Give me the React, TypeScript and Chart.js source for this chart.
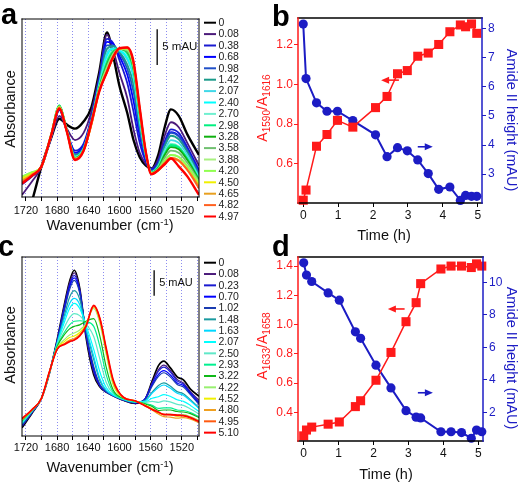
import React, { useEffect, useRef } from "react";
import { Chart, registerables } from "chart.js";
Chart.register(...registerables);

// ---------------- Panel a : spectra (mAU) ----------------
const WN_A = [1725, 1712, 1700, 1688, 1677, 1668, 1657, 1646, 1636, 1626, 1616, 1608, 1600, 1590, 1582, 1574, 1566, 1559, 1550, 1542, 1534, 1524, 1513, 1498];
const LABELS_A = ["0", "0.08", "0.38", "0.68", "0.98", "1.42", "2.07", "2.40", "2.70", "2.98", "3.28", "3.58", "3.88", "4.20", "4.50", "4.65", "4.82", "4.97"];
const COLORS_A = ["#000000", "#4b1a7a", "#1a1ad0", "#0000ff", "#2050c8", "#1a9a8a", "#40d8e8", "#00ffff", "#70f0d0", "#00f080", "#10b010", "#70c070", "#a8f080", "#90ff50", "#f0f000", "#e8a020", "#ff6020", "#ff0000"];
const A_000 = [-5, -0.5, 4.3, 8.2, 11.0, 10.2, 9.6, 10.6, 12.6, 17.5, 23.1, 19.8, 15.6, 11.8, 8.0, 5.6, 4.4, 4.0, 6.0, 9.8, 12.3, 11.4, 8.8, 5.9];
const A_008 = [0.3, 2.2, 4.2, 8.1, 11.4, 9.7, 8.0, 9.0, 12.0, 17.0, 22.8, 20.6, 17.4, 13.9, 9.5, 6.2, 4.6, 4.0, 5.4, 8.6, 10.5, 9.8, 7.6, 4.4];
const A_038 = [1.8, 2.9, 4.3, 8.3, 12.2, 9.4, 6.5, 7.5, 11.2, 16.6, 22.2, 21.6, 19.2, 16.0, 12.0, 7.6, 4.9, 3.9, 5.0, 7.8, 9.5, 9.0, 7.0, 3.8];
const A_068 = [1.9, 3.0, 4.3, 8.3, 12.3, 9.4, 6.2, 7.2, 11.0, 16.4, 21.8, 21.5, 19.8, 17.2, 13.5, 8.6, 5.2, 3.8, 4.8, 7.5, 9.1, 8.6, 6.7, 3.5];
const A_098 = [2.0, 3.0, 4.3, 8.4, 12.4, 9.4, 6.0, 7.0, 10.9, 16.2, 21.3, 21.3, 20.2, 18.0, 14.8, 9.4, 5.4, 3.7, 4.7, 7.4, 9.0, 8.5, 6.6, 3.3];
const A_142 = [2.2, 3.1, 4.3, 8.4, 12.5, 9.5, 5.9, 6.9, 10.8, 16.0, 20.8, 21.2, 20.4, 18.6, 15.8, 10.0, 5.6, 3.6, 4.6, 7.1, 8.6, 8.1, 6.3, 3.0];
const A_207 = [2.4, 3.2, 4.3, 8.5, 12.6, 9.5, 5.7, 6.8, 10.7, 15.8, 20.2, 20.9, 20.6, 19.3, 16.8, 10.7, 5.8, 3.5, 4.4, 6.6, 8.0, 7.6, 5.9, 2.8];
const A_240 = [2.5, 3.2, 4.3, 8.5, 12.7, 9.5, 5.6, 6.8, 10.6, 15.6, 19.8, 20.8, 20.6, 19.6, 17.2, 11.0, 5.8, 3.5, 4.2, 6.0, 7.2, 6.9, 5.4, 2.6];
const A_270 = [2.6, 3.3, 4.3, 8.5, 12.8, 9.6, 5.6, 6.7, 10.5, 15.5, 19.3, 20.6, 20.7, 20.0, 17.6, 11.3, 5.9, 3.5, 4.3, 6.3, 7.5, 7.1, 5.5, 2.6];
const A_298 = [2.8, 3.4, 4.3, 8.6, 12.9, 9.6, 5.5, 6.7, 10.5, 15.4, 19.0, 20.5, 20.8, 20.2, 17.8, 11.5, 6.0, 3.4, 4.2, 6.1, 7.3, 7.0, 5.4, 2.5];
const A_328 = [2.7, 3.4, 4.3, 8.6, 12.8, 9.6, 5.5, 6.6, 10.4, 15.3, 18.6, 20.3, 20.8, 20.4, 18.1, 11.7, 6.0, 3.4, 4.1, 5.9, 7.0, 6.7, 5.2, 2.4];
const A_358 = [2.8, 3.4, 4.3, 8.6, 12.8, 9.5, 5.4, 6.6, 10.4, 15.2, 18.4, 20.2, 20.8, 20.5, 18.3, 11.9, 6.0, 3.4, 4.0, 5.5, 6.5, 6.2, 4.8, 2.2];
const A_388 = [2.9, 3.5, 4.3, 8.6, 12.7, 9.5, 5.4, 6.6, 10.3, 15.1, 18.1, 20.0, 20.8, 20.7, 18.5, 12.0, 6.1, 3.3, 3.9, 5.1, 5.9, 5.7, 4.4, 2.0];
const A_420 = [2.9, 3.5, 4.3, 8.6, 12.7, 9.5, 5.4, 6.6, 10.3, 15.0, 17.8, 19.8, 20.8, 20.8, 18.6, 12.1, 6.1, 3.3, 3.9, 5.1, 5.9, 5.6, 4.3, 1.9];
const A_450 = [2.6, 3.3, 4.3, 8.5, 12.6, 9.4, 5.3, 6.5, 10.2, 14.9, 17.6, 19.6, 20.8, 20.9, 18.8, 12.3, 6.1, 3.3, 3.7, 4.7, 5.4, 5.1, 3.8, 1.7];
const A_465 = [2.3, 3.2, 4.3, 8.5, 12.6, 9.4, 5.3, 6.5, 10.2, 14.9, 17.6, 19.6, 20.8, 20.9, 18.8, 12.3, 6.2, 3.2, 3.8, 4.8, 5.5, 5.2, 3.9, 1.5];
const A_482 = [2.1, 3.1, 4.3, 8.5, 12.5, 9.4, 5.3, 6.5, 10.1, 14.8, 17.5, 19.5, 20.8, 21.0, 18.9, 12.4, 6.2, 3.2, 3.8, 4.8, 5.5, 5.1, 3.8, 1.2];
const A_497 = [1.9, 3.0, 4.3, 8.5, 12.4, 9.4, 5.2, 6.5, 10.5, 14.8, 17.6, 19.7, 20.9, 21.0, 19.0, 12.5, 6.2, 3.2, 3.8, 4.6, 5.4, 4.3, 2.9, 0.3];
const SERIES_A = [A_000, A_008, A_038, A_068, A_098, A_142, A_207, A_240, A_270, A_298, A_328, A_358, A_388, A_420, A_450, A_465, A_482, A_497];

// ---------------- Panel c : spectra (mAU) ----------------
const WN_C = [1725, 1712, 1700, 1690, 1680, 1670, 1664, 1658, 1651, 1643, 1633, 1625, 1617, 1608, 1595, 1580, 1568, 1558, 1550, 1543, 1535, 1526, 1518, 1509, 1498];
const LABELS_C = ["0", "0.08", "0.23", "0.70", "1.02", "1.48", "1.63", "2.07", "2.50", "2.93", "3.22", "4.22", "4.52", "4.80", "4.95", "5.10"];
const COLORS_C = ["#000000", "#4b1a7a", "#1a1ad0", "#0000ff", "#1a3cb0", "#1a9aa0", "#00d8ff", "#00ffff", "#60e8c8", "#00f090", "#10b818", "#98f070", "#f0f000", "#f0a020", "#ff5a10", "#ff0000"];
const C_000 = [1.6, 4.5, 7.4, 12.2, 18.8, 26.3, 30.3, 32.5, 29.0, 19.5, 12.0, 9.6, 8.6, 7.9, 7.0, 6.4, 7.0, 10.8, 13.8, 14.7, 13.4, 11.6, 11.0, 9.2, 7.8];
const C_008 = [1.9, 4.6, 7.4, 12.3, 18.7, 26.0, 30.0, 32.0, 28.8, 19.8, 12.4, 9.7, 8.6, 7.9, 7.0, 6.5, 7.1, 10.5, 13.0, 13.9, 12.9, 11.1, 10.4, 8.7, 7.0];
const C_023 = [2.0, 4.7, 7.4, 12.3, 18.6, 25.8, 29.6, 31.5, 28.6, 20.0, 12.8, 9.8, 8.6, 7.9, 7.0, 6.5, 7.1, 10.3, 12.7, 13.5, 12.6, 10.8, 10.2, 8.5, 6.7];
const C_070 = [2.0, 4.7, 7.4, 12.3, 18.5, 25.4, 29.2, 31.0, 28.3, 20.2, 13.2, 9.9, 8.7, 7.9, 7.1, 6.5, 7.1, 10.0, 12.1, 12.8, 12.0, 10.4, 9.9, 8.3, 6.4];
const C_102 = [2.1, 4.7, 7.4, 12.3, 18.4, 25.0, 28.7, 30.5, 28.0, 20.5, 13.6, 10.1, 8.7, 7.9, 7.1, 6.6, 7.0, 9.8, 11.7, 12.4, 11.6, 10.1, 9.6, 8.1, 6.2];
const C_148 = [2.4, 4.9, 7.4, 12.3, 18.2, 24.0, 27.2, 28.5, 26.8, 21.0, 15.0, 10.8, 8.9, 8.0, 7.1, 6.6, 6.9, 8.6, 9.9, 10.4, 9.8, 8.7, 8.3, 7.1, 5.6];
const C_163 = [2.5, 4.9, 7.4, 12.3, 18.1, 23.4, 26.0, 27.0, 25.8, 21.2, 15.6, 11.2, 9.0, 8.0, 7.2, 6.7, 6.8, 8.4, 9.5, 10.0, 9.4, 8.4, 8.0, 6.9, 5.4];
const C_207 = [2.6, 5.0, 7.4, 12.3, 18.0, 22.6, 25.0, 26.0, 25.0, 21.8, 17.0, 12.5, 9.5, 8.1, 7.2, 6.7, 6.7, 7.4, 7.7, 8.1, 7.8, 7.1, 6.8, 6.0, 4.8];
const C_250 = [2.7, 5.0, 7.4, 12.3, 17.8, 21.5, 23.2, 24.0, 23.6, 22.0, 19.5, 15.0, 10.5, 8.3, 7.3, 6.8, 6.6, 6.8, 6.6, 6.9, 6.7, 6.2, 6.0, 5.3, 4.3];
const C_293 = [2.9, 5.1, 7.4, 12.4, 17.6, 20.5, 21.8, 22.5, 22.6, 22.4, 21.5, 17.5, 12.0, 8.6, 7.3, 6.8, 6.4, 6.0, 5.4, 5.5, 5.5, 5.1, 5.0, 4.6, 3.8];
const C_322 = [3.0, 5.1, 7.4, 12.4, 17.5, 20.0, 21.0, 21.5, 21.8, 22.5, 23.0, 19.5, 13.5, 9.0, 7.4, 6.8, 6.3, 5.8, 5.0, 5.1, 5.1, 4.8, 4.7, 4.4, 3.6];
const C_422 = [3.1, 5.2, 7.4, 12.4, 17.2, 19.0, 19.8, 20.2, 20.8, 22.0, 25.0, 22.0, 16.0, 10.0, 7.5, 6.9, 6.1, 5.4, 4.6, 4.2, 4.3, 4.1, 4.2, 3.8, 3.1];
const C_452 = [3.2, 5.2, 7.4, 12.5, 17.1, 18.6, 19.3, 19.6, 20.3, 21.8, 25.3, 22.5, 16.5, 10.3, 7.5, 6.9, 6.1, 5.3, 4.5, 4.2, 4.2, 3.9, 4.0, 3.6, 2.9];
const C_480 = [3.3, 5.2, 7.4, 12.5, 17.0, 18.2, 18.8, 19.1, 19.9, 21.6, 25.3, 22.8, 16.9, 10.6, 7.6, 6.9, 6.0, 5.1, 4.3, 3.8, 3.7, 3.5, 3.6, 3.3, 2.6];
const C_495 = [3.3, 5.2, 7.4, 12.5, 17.0, 18.1, 18.6, 18.9, 19.7, 21.5, 25.5, 23.0, 17.1, 10.8, 7.6, 6.9, 6.0, 5.2, 4.6, 4.3, 4.2, 4.0, 4.0, 3.6, 2.9];
const C_510 = [3.4, 5.2, 7.4, 12.5, 17.0, 18.0, 18.5, 18.8, 19.6, 21.5, 25.6, 23.0, 17.2, 11.0, 7.6, 6.9, 6.0, 5.2, 4.7, 4.2, 4.2, 4.1, 4.0, 3.6, 2.8];
const SERIES_C = [C_000, C_008, C_023, C_070, C_102, C_148, C_163, C_207, C_250, C_293, C_322, C_422, C_452, C_480, C_495, C_510];

// ---------------- Panel b ----------------
const TIME_B = [0, 0.08, 0.38, 0.68, 0.98, 1.42, 2.07, 2.40, 2.70, 2.98, 3.28, 3.58, 3.88, 4.20, 4.50, 4.65, 4.82, 4.97];
const RATIO_B = [0.418, 0.469, 0.689, 0.748, 0.819, 0.785, 0.883, 0.939, 1.053, 1.069, 1.141, 1.157, 1.20, 1.264, 1.298, 1.289, 1.303, 1.256];
const AMIDE_B = [8.15, 6.28, 5.45, 5.16, 5.16, 4.84, 4.35, 3.60, 3.91, 3.80, 3.49, 3.02, 2.48, 2.56, 2.10, 2.27, 2.24, 2.24];

// ---------------- Panel d ----------------
const TIME_D = [0, 0.08, 0.23, 0.70, 1.02, 1.48, 1.63, 2.07, 2.50, 2.93, 3.22, 3.35, 3.93, 4.22, 4.52, 4.80, 4.95, 5.10];
const RATIO_D = [0.24, 0.28, 0.30, 0.32, 0.335, 0.44, 0.48, 0.62, 0.81, 1.02, 1.15, 1.28, 1.38, 1.40, 1.40, 1.39, 1.415, 1.40];
const AMIDE_D = [11.2, 10.45, 10.05, 9.35, 8.9, 6.95, 6.55, 4.9, 3.5, 2.1, 1.7, 1.65, 0.8, 0.8, 0.75, 0.4, 0.9, 0.8];

const RED = "#ff1a1a";
const BLUE = "#1c1cc4";
const FONT = '"Liberation Sans", Arial, sans-serif';

// ---------------- plugins ----------------
function framePlugin(top: string, right: string, bottom: string, left: string, w: number) {
  return {
    id: "frame",
    afterDatasetsDraw(chart: any) {
      const { ctx, chartArea: a } = chart;
      ctx.save();
      ctx.lineWidth = w;
      ctx.lineCap = "square";
      const seg = (c: string, x1: number, y1: number, x2: number, y2: number) => {
        ctx.strokeStyle = c;
        ctx.beginPath();
        ctx.moveTo(x1, y1);
        ctx.lineTo(x2, y2);
        ctx.stroke();
      };
      seg(top, a.left, a.top, a.right, a.top);
      seg(bottom, a.left, a.bottom, a.right, a.bottom);
      seg(left, a.left, a.top, a.left, a.bottom);
      seg(right, a.right, a.top, a.right, a.bottom);
      ctx.restore();
    },
  };
}

function legendPlugin(x0: number, y0: number, step: number, labels: string[], colors: string[]) {
  return {
    id: "specLegend",
    afterDraw(chart: any) {
      const ctx = chart.ctx;
      ctx.save();
      ctx.font = `10.5px ${FONT}`;
      ctx.textBaseline = "middle";
      ctx.fillStyle = "#222";
      labels.forEach((lab, i) => {
        const y = y0 + i * step;
        ctx.strokeStyle = colors[i];
        ctx.lineWidth = 2;
        ctx.beginPath();
        ctx.moveTo(x0, y);
        ctx.lineTo(x0 + 12, y);
        ctx.stroke();
        ctx.fillText(lab, x0 + 14.5, y + 0.5);
      });
      ctx.restore();
    },
  };
}

function scaleBarPlugin(wn: number, yTop: number, size: number) {
  return {
    id: "scaleBar",
    afterDatasetsDraw(chart: any) {
      const { ctx, scales } = chart;
      const x = scales.x.getPixelForValue(wn);
      const y1 = scales.y.getPixelForValue(yTop);
      const y2 = scales.y.getPixelForValue(yTop - 5);
      ctx.save();
      ctx.strokeStyle = "#222";
      ctx.lineWidth = 1.5;
      ctx.beginPath();
      ctx.moveTo(x, y1);
      ctx.lineTo(x, y2);
      ctx.stroke();
      ctx.font = `${size}px ${FONT}`;
      ctx.fillStyle = "#111";
      ctx.textBaseline = "middle";
      ctx.fillText("5 mAU", x + 5, (y1 + y2) / 2);
      ctx.restore();
    },
  };
}

type Arrow = { from: number; to: number; y: number; axis: string; color: string };
function arrowPlugin(list: Arrow[]) {
  return {
    id: "arrows",
    afterDatasetsDraw(chart: any) {
      const { ctx, scales } = chart;
      ctx.save();
      list.forEach((a) => {
        const x1 = scales.x.getPixelForValue(a.from);
        const x2 = scales.x.getPixelForValue(a.to);
        const y = scales[a.axis].getPixelForValue(a.y);
        const dir = Math.sign(x2 - x1);
        ctx.strokeStyle = a.color;
        ctx.fillStyle = a.color;
        ctx.lineWidth = 1.6;
        ctx.beginPath();
        ctx.moveTo(x1, y);
        ctx.lineTo(x2 - dir * 6, y);
        ctx.stroke();
        ctx.beginPath();
        ctx.moveTo(x2, y);
        ctx.lineTo(x2 - dir * 8, y - 3.5);
        ctx.lineTo(x2 - dir * 8, y + 3.5);
        ctx.closePath();
        ctx.fill();
      });
      ctx.restore();
    },
  };
}

// ---------------- chart configs ----------------
function spectrumConfig(
  wn: number[], series: number[][], labels: string[], colors: string[],
  yMax: number, padTop: number, xHeight: number, lwMain: number, lwOther: number,
  legendY: number, legendStep: number, bar: [number, number, number], tickPad: number
) {
  const n = series.length;
  return {
    type: "line",
    data: {
      datasets: series.map((s, i) => ({
        label: labels[i],
        data: s.map((y, j) => ({ x: wn[j], y })),
        borderColor: colors[i],
        backgroundColor: colors[i],
        borderWidth: i === 0 || i === n - 1 ? lwMain : lwOther,
        pointRadius: 0,
        cubicInterpolationMode: "monotone",
        fill: false,
        clip: 0,
        order: n - i,
      })),
    },
    options: {
      animation: false,
      responsive: false,
      devicePixelRatio: 1,
      events: [],
      layout: { padding: { left: 22, top: padTop, right: 62, bottom: 0 } },
      plugins: { legend: { display: false }, tooltip: { enabled: false } },
      scales: {
        x: {
          type: "linear",
          reverse: true,
          min: 1498,
          max: 1725,
          afterFit: (s: any) => { s.height = xHeight; },
          ticks: {
            stepSize: 20,
            includeBounds: false,
            autoSkip: false,
            maxRotation: 0,
            color: "#111",
            padding: tickPad,
            font: { family: FONT, size: 11 },
            callback: (v: any) => (Math.round(v) % 40 === 0 ? String(Math.round(v)) : ""),
          },
          grid: { color: "#8c8cf0", lineWidth: 1, tickLength: 4, tickColor: "#000" },
          border: { display: false, dash: [1, 2] },
        },
        y: { display: false, min: 0, max: yMax },
      },
    },
    plugins: [
      framePlugin("#000", "#000", "#000", "#000", 1),
      scaleBarPlugin(bar[0], bar[1], bar[2]),
      legendPlugin(204, legendY, legendStep, labels, colors),
    ],
  };
}

function kineticsConfig(
  time: number[], ratio: number[], amide: number[],
  xr: [number, number], yl: [number, number], yr: [number, number], yrStep: number,
  padTop: number, xHeight: number, wl: number, wr: number, arrows: Arrow[]
) {
  return {
    type: "line",
    data: {
      datasets: [
        {
          data: time.map((t, i) => ({ x: t, y: ratio[i] })),
          yAxisID: "yL",
          borderColor: RED,
          backgroundColor: RED,
          pointStyle: "rect",
          pointRadius: 6.4,
          pointBorderWidth: 0,
          borderWidth: 1.5,
          clip: 8,
        },
        {
          data: time.map((t, i) => ({ x: t, y: amide[i] })),
          yAxisID: "yR",
          borderColor: BLUE,
          backgroundColor: BLUE,
          pointStyle: "circle",
          pointRadius: 4.6,
          pointBorderWidth: 0,
          borderWidth: 2,
          clip: 8,
        },
      ],
    },
    options: {
      animation: false,
      responsive: false,
      devicePixelRatio: 1,
      events: [],
      layout: { padding: { left: 0, top: padTop, right: 0, bottom: 0 } },
      plugins: { legend: { display: false }, tooltip: { enabled: false } },
      scales: {
        x: {
          type: "linear",
          min: xr[0],
          max: xr[1],
          afterFit: (s: any) => { s.height = xHeight; },
          ticks: { stepSize: 1, includeBounds: false, maxRotation: 0, color: "#111", padding: 1, font: { family: FONT, size: 12 } },
          grid: { drawOnChartArea: false, tickLength: 4, color: "#000" },
          border: { display: false },
        },
        yL: {
          position: "left",
          min: yl[0],
          max: yl[1],
          afterFit: (s: any) => { s.width = wl; },
          ticks: { stepSize: 0.2, includeBounds: false, color: RED, padding: 1, font: { family: FONT, size: 12 }, callback: (v: any) => Number(v).toFixed(1) },
          grid: { drawOnChartArea: false, tickLength: 4, color: RED },
          border: { display: false },
        },
        yR: {
          position: "right",
          min: yr[0],
          max: yr[1],
          afterFit: (s: any) => { s.width = wr; },
          ticks: { stepSize: yrStep, includeBounds: false, color: BLUE, padding: 2, font: { family: FONT, size: 12 } },
          grid: { drawOnChartArea: false, tickLength: 4, color: BLUE },
          border: { display: false },
        },
      },
    },
    plugins: [framePlugin("#000", BLUE, "#000", RED, 1.5), arrowPlugin(arrows)],
  };
}

const makeA = () => spectrumConfig(WN_A, SERIES_A, LABELS_A, COLORS_A, 25, 19, 45, 2.4, 1.8, 22.7, 11.4, [1551.6, 23.55, 11.5], 3);
const makeC = () => spectrumConfig(WN_C, SERIES_C, LABELS_C, COLORS_C, 35.1, 15, 48, 1.7, 1.2, 20.7, 11.33, [1555.5, 32.5, 11], 1);
const makeB = () =>
  kineticsConfig(TIME_B, RATIO_B, AMIDE_B, [-0.15, 5.12], [0.404, 1.333], [2.01, 8.36], 1, 18, 39, 37, 40, [
    { from: 2.74, to: 2.23, y: 1.021, axis: "yL", color: RED },
    { from: 3.28, to: 3.71, y: 3.94, axis: "yR", color: BLUE },
  ]);
const makeD = () =>
  kineticsConfig(TIME_D, RATIO_D, AMIDE_D, [-0.163, 5.135], [0.205, 1.462], [0.23, 11.56], 2, 15, 43, 37, 39, [
    { from: 2.89, to: 2.41, y: 1.107, axis: "yL", color: RED },
    { from: 3.27, to: 3.7, y: 3.2, axis: "yR", color: BLUE },
  ]);

function ChartCanvas({ make, left, top }: { make: () => any; left: number; top: number }) {
  const ref = useRef<HTMLCanvasElement | null>(null);
  useEffect(() => {
    const chart = new Chart(ref.current as HTMLCanvasElement, make());
    return () => chart.destroy();
  }, []);
  return <canvas ref={ref} width={261} height={242} style={{ position: "absolute", left, top, width: 261, height: 242 }} />;
}

function Label({ x, y, rot = 0, size = 14.5, color = "#111", children }: any) {
  return (
    <div
      style={{
        position: "absolute",
        left: x,
        top: y,
        transform: `translate(-50%, -50%) rotate(${rot}deg)`,
        whiteSpace: "nowrap",
        fontFamily: FONT,
        fontSize: size,
        color,
        lineHeight: 1,
      }}
    >
      {children}
    </div>
  );
}
const Sub = ({ children }: any) => <span style={{ fontSize: "0.72em", position: "relative", top: "0.3em" }}>{children}</span>;
const Sup = ({ children }: any) => <span style={{ fontSize: "0.65em", position: "relative", top: "-0.55em" }}>{children}</span>;
function Letter({ x, y, children }: any) {
  return (
    <div style={{ position: "absolute", left: x, top: y, fontFamily: FONT, fontWeight: 700, fontSize: 29, lineHeight: 1, color: "#000" }}>
      {children}
    </div>
  );
}

export default function App() {
  return (
    <div style={{ position: "fixed", left: 0, top: 0, width: 522, height: 484, background: "#fff", overflow: "hidden" }}>
      <ChartCanvas make={makeA} left={0} top={0} />
      <ChartCanvas make={makeB} left={261} top={0} />
      <ChartCanvas make={makeC} left={0} top={242} />
      <ChartCanvas make={makeD} left={261} top={242} />

      <Letter x={1} y={0}>a</Letter>
      <Letter x={272} y={2}>b</Letter>
      <Letter x={-2} y={232}>c</Letter>
      <Letter x={272} y={232}>d</Letter>

      <Label x={10} y={109} rot={-90}>Absorbance</Label>
      <Label x={110} y={225}>Wavenumber (cm<Sup>-1</Sup>)</Label>
      <Label x={10} y={345} rot={-90}>Absorbance</Label>
      <Label x={110} y={467}>Wavenumber (cm<Sup>-1</Sup>)</Label>

      <Label x={384} y={235}>Time (h)</Label>
      <Label x={386} y={474}>Time (h)</Label>

      <Label x={262} y={108} rot={-90} size={14} color={RED}>
        A<Sub>1590</Sub>/A<Sub>1616</Sub>
      </Label>
      <Label x={262} y={346} rot={-90} size={14} color={RED}>
        A<Sub>1633</Sub>/A<Sub>1658</Sub>
      </Label>

      <Label x={512} y={120} rot={90} color={BLUE}>Amide II height (mAU)</Label>
      <Label x={512} y={358} rot={90} color={BLUE}>Amide II height (mAU)</Label>
    </div>
  );
}
